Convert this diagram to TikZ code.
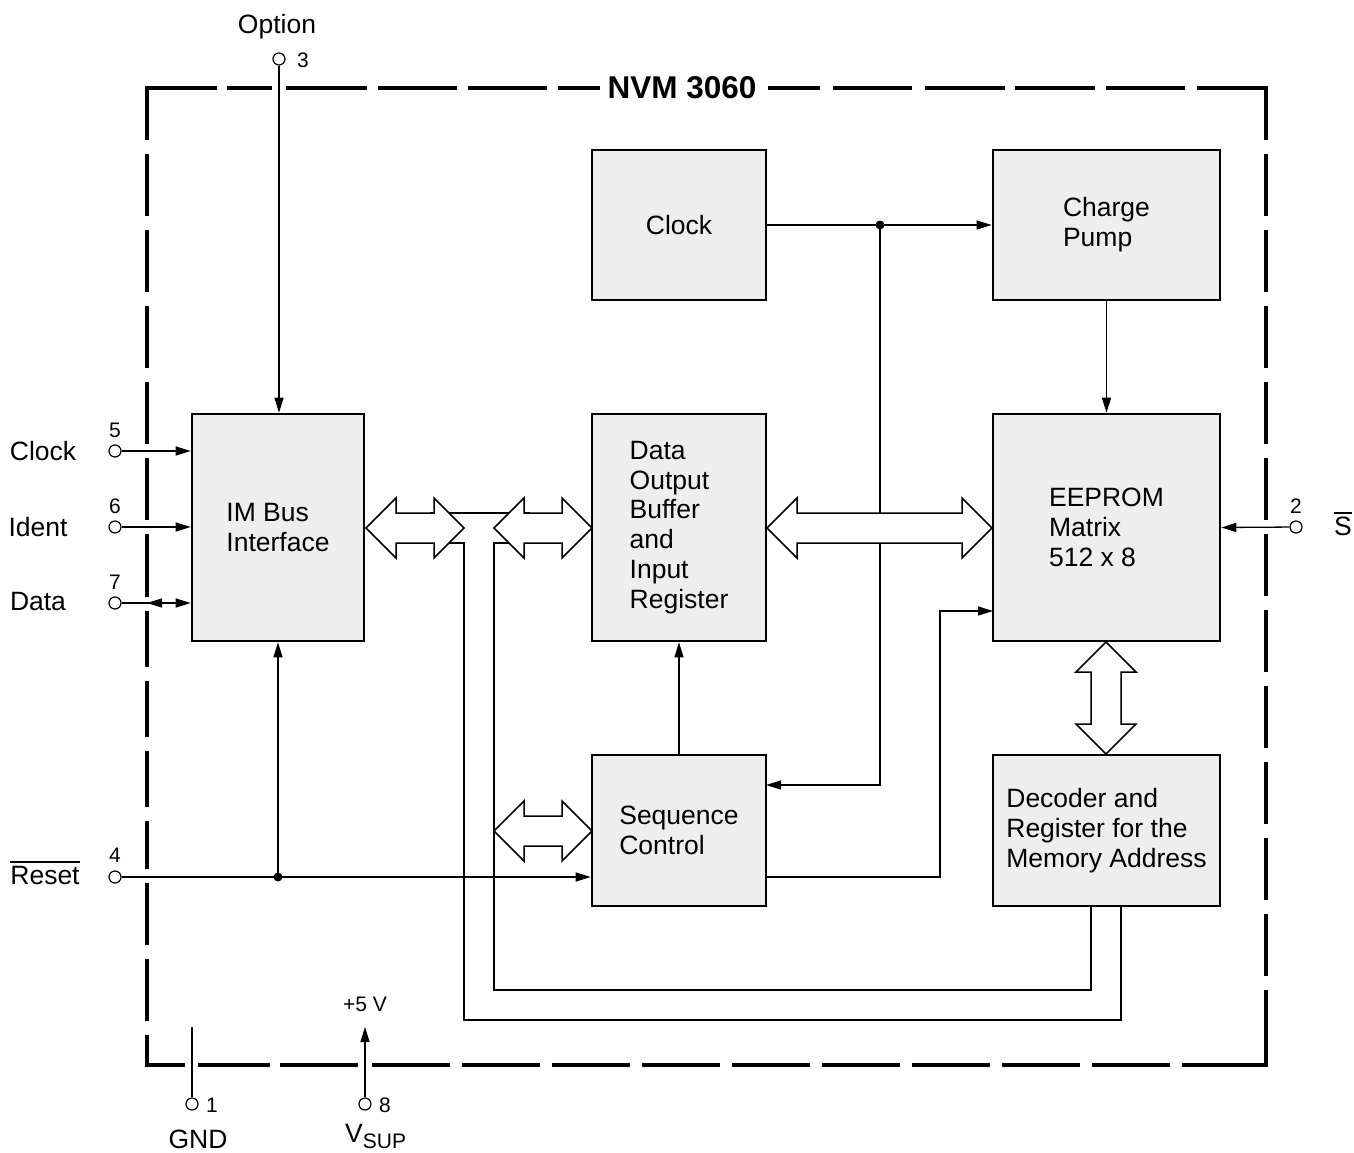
\documentclass[tikz,border=0pt]{standalone}
\usepackage{fontspec}
\setmainfont{Liberation Sans}
\usetikzlibrary{arrows.meta}
\definecolor{boxgray}{HTML}{EEEEEE}
\newcommand{\hbusarrow}[3]{%
  \draw[bus] (#1,#3) -- (#1+30,#3-30) -- (#1+30,#3-15) -- (#2-30,#3-15) -- (#2-30,#3-30) -- (#2,#3)
    -- (#2-30,#3+30) -- (#2-30,#3+15) -- (#1+30,#3+15) -- (#1+30,#3+30) -- cycle;}
\newcommand{\vbusarrow}[3]{%
  \draw[bus] (#1,#2) -- (#1+30,#2+30) -- (#1+15,#2+30) -- (#1+15,#3-30) -- (#1+30,#3-30) -- (#1,#3)
    -- (#1-30,#3-30) -- (#1-15,#3-30) -- (#1-15,#2+30) -- (#1-30,#2+30) -- cycle;}
\newcommand{\ovltext}[1]{\vbox{\hrule height 1.8pt\kern 3pt\hbox{#1}}}
\begin{document}
\begin{tikzpicture}[x=1pt,y=-1pt,
  blk/.style={draw=black, fill=boxgray, line width=2.6pt, inner sep=0pt, align=left,
    font=\fontsize{26.5}{29.8}\selectfont},
  conn/.style={line width=1.3pt},
  arr/.style={conn,-{Triangle[length=15pt,width=9pt]}},
  pin/.style={circle, draw=black, fill=white, line width=1.2pt, minimum size=12pt, inner sep=0pt},
  pnum/.style={font=\fontsize{21}{21}\selectfont, inner sep=0pt},
  lbl/.style={font=\fontsize{26.5}{26.5}\selectfont, inner sep=0pt},
  bus/.style={draw=black, fill=white, line width=1.5pt, line join=miter},
  jdot/.style={circle, fill=black, minimum size=9pt, inner sep=0pt},
  border/.style={line width=4.2pt},
]
\useasboundingbox (0,0) rectangle (1354,1153);

% ---------- dashed package outline ----------
\draw[border] (217,88) -- (147,88) -- (147,140);
\draw[border] (1197,88) -- (1266,88) -- (1266,140);
\draw[border] (147,1035) -- (147,1065) -- (185,1065);
\draw[border] (1182,1065) -- (1266,1065) -- (1266,990);
\foreach \a/\b in {227/272,286/367,378/457,468/547,558/600,768/820,833/912,925/1005,1015/1095,1106/1185}
  \draw[border] (\a,88) -- (\b,88);
\foreach \a/\b in {154/216,230/292,306/368,382/444,458/520,534/597,611/667,681/737,751/807,821/869,883/945,959/1021}
  \draw[border] (147,\a) -- (147,\b);
\foreach \a/\b in {154/216,230/292,306/368,382/444,458/520,534/596,610/672,686/748,762/824,838/900,914/976}
  \draw[border] (1266,\a) -- (1266,\b);
\foreach \a/\b in {198/270,280/358,372/450,462/540,552/630,642/720,732/810,822/900,912/990,1002/1080,1092/1170}
  \draw[border] (\a,1065) -- (\b,1065);
\node[font=\bfseries\fontsize{31.5}{31.5}\selectfont, inner sep=0pt] (title) at (682,88) {NVM 3060};

% ---------- blocks ----------
\node[blk, minimum width=172pt, minimum height=227pt] (im) at (278,527.5) {IM Bus\\Interface};
\node[blk, minimum width=174pt, minimum height=150pt] (clk) at (679,225) {Clock};
\node[blk, minimum width=227pt, minimum height=150pt] (cp) at (1106.5,225) {Charge\\Pump};
\node[blk, minimum width=174pt, minimum height=227pt] (db) at (679,527.5) {Data\\Output\\Buffer\\and\\Input\\Register};
\node[blk, minimum width=227pt, minimum height=227pt] (em) at (1106.5,527.5) {EEPROM\\Matrix\\512 x 8};
\node[blk, minimum width=174pt, minimum height=151pt] (sc) at (679,830.5) {Sequence\\Control};
\node[blk, minimum width=227pt, minimum height=151pt] (dec) at (1106.5,830.5) {Decoder and\\Register for the\\Memory Address};

% ---------- pins ----------
\node[pin] (p3) at (279,59) {};
\node[pnum, anchor=west] (n3) at (297,60) {3};
\node[lbl] (lopt) at (277,27) {Option};

\node[pin] (p5) at (115,451) {};
\node[pnum] (n5) at (115,430) {5};
\node[lbl] (lclk) at (43,451) {Clock};

\node[pin] (p6) at (115,527) {};
\node[pnum] (n6) at (115,506) {6};
\node[lbl] (lid) at (38,527) {Ident};

\node[pin] (p7) at (115,603) {};
\node[pnum] (n7) at (115,582) {7};
\node[lbl] (ldat) at (38,602) {Data};

\node[pin] (p4) at (115,877) {};
\node[pnum] (n4) at (115,855) {4};
\node[lbl] (lrst) at (45,873) {\ovltext{Reset}};

\node[pin] (p2) at (1296,527) {};
\node[pnum] (n2) at (1296,506) {2};
\node[lbl] (ls) at (1343,524) {\ovltext{S}};

\node[pin] (p1) at (192,1104) {};
\node[pnum, anchor=west] (n1) at (206,1105) {1};
\node[lbl] (lgnd) at (198,1139) {GND};

\node[pin] (p8) at (365,1104) {};
\node[pnum, anchor=west] (n8) at (379,1105) {8};
\node[pnum] (l5v) at (365,1004) {+5 V};
\node[lbl, anchor=west] (lvsup) at (345,1136) {V\raisebox{-6pt}{\fontsize{21}{21}\selectfont SUP}};

% ---------- coordinates ----------
\coordinate (j1) at (880,225);
\coordinate (j2) at (278,877);
\coordinate (sce) at (766,785);
\coordinate (sco) at (766,877);
\coordinate (k1) at (940,877);
\coordinate (k2) at (940,611);
\coordinate (emw) at (993,611);
\coordinate (d7) at (147,603);
\coordinate (g1) at (192,1027);
\coordinate (v8) at (365,1027);
\coordinate (decA) at (1121,906);
\coordinate (decB) at (1091,906);

% ---------- connectors ----------
\draw[arr] (p3) -- (p3 |- im.north);
\draw[arr] (p5) -- (p5 -| im.west);
\draw[arr] (p6) -- (p6 -| im.west);
\draw[arr] (p7) -- (p7 -| im.west);
\draw[arr] (d7) ++(20,0) -- (d7);
\draw[arr] (p4) -- (p4 -| sc.west);
\draw[arr] (j2) -- (im.south);
\node[jdot] (dj2) at (j2) {};
\draw[arr] (p2) -- (em.east);
\draw[conn] (p1) -- (g1);
\draw[arr] (p8) -- (v8);

\draw[arr] (clk.east) -- (cp.west);
\draw[arr] (j1) |- (sce);
\node[jdot] (dj1) at (j1) {};
\draw[arr] (cp.south) -- (em.north);
\draw[arr] (sc.north) -- (db.south);
\draw[arr] (sco) -- (k1) -- (k2) -- (emw);

% bus wiring
\draw[conn] (430,513) -- (530,513);
\draw[conn] (430,543) -- (464,543) -- (464,1020) -- (1121,1020) -- (decA);
\draw[conn] (530,543) -- (494,543) -- (494,990) -- (1091,990) -- (decB);

% ---------- bus arrows ----------
\hbusarrow{366}{464}{528}
\hbusarrow{494}{592}{528}
\hbusarrow{767}{992}{528}
\hbusarrow{494}{592}{831}
\vbusarrow{1106}{642}{754}
\end{tikzpicture}
\end{document}
